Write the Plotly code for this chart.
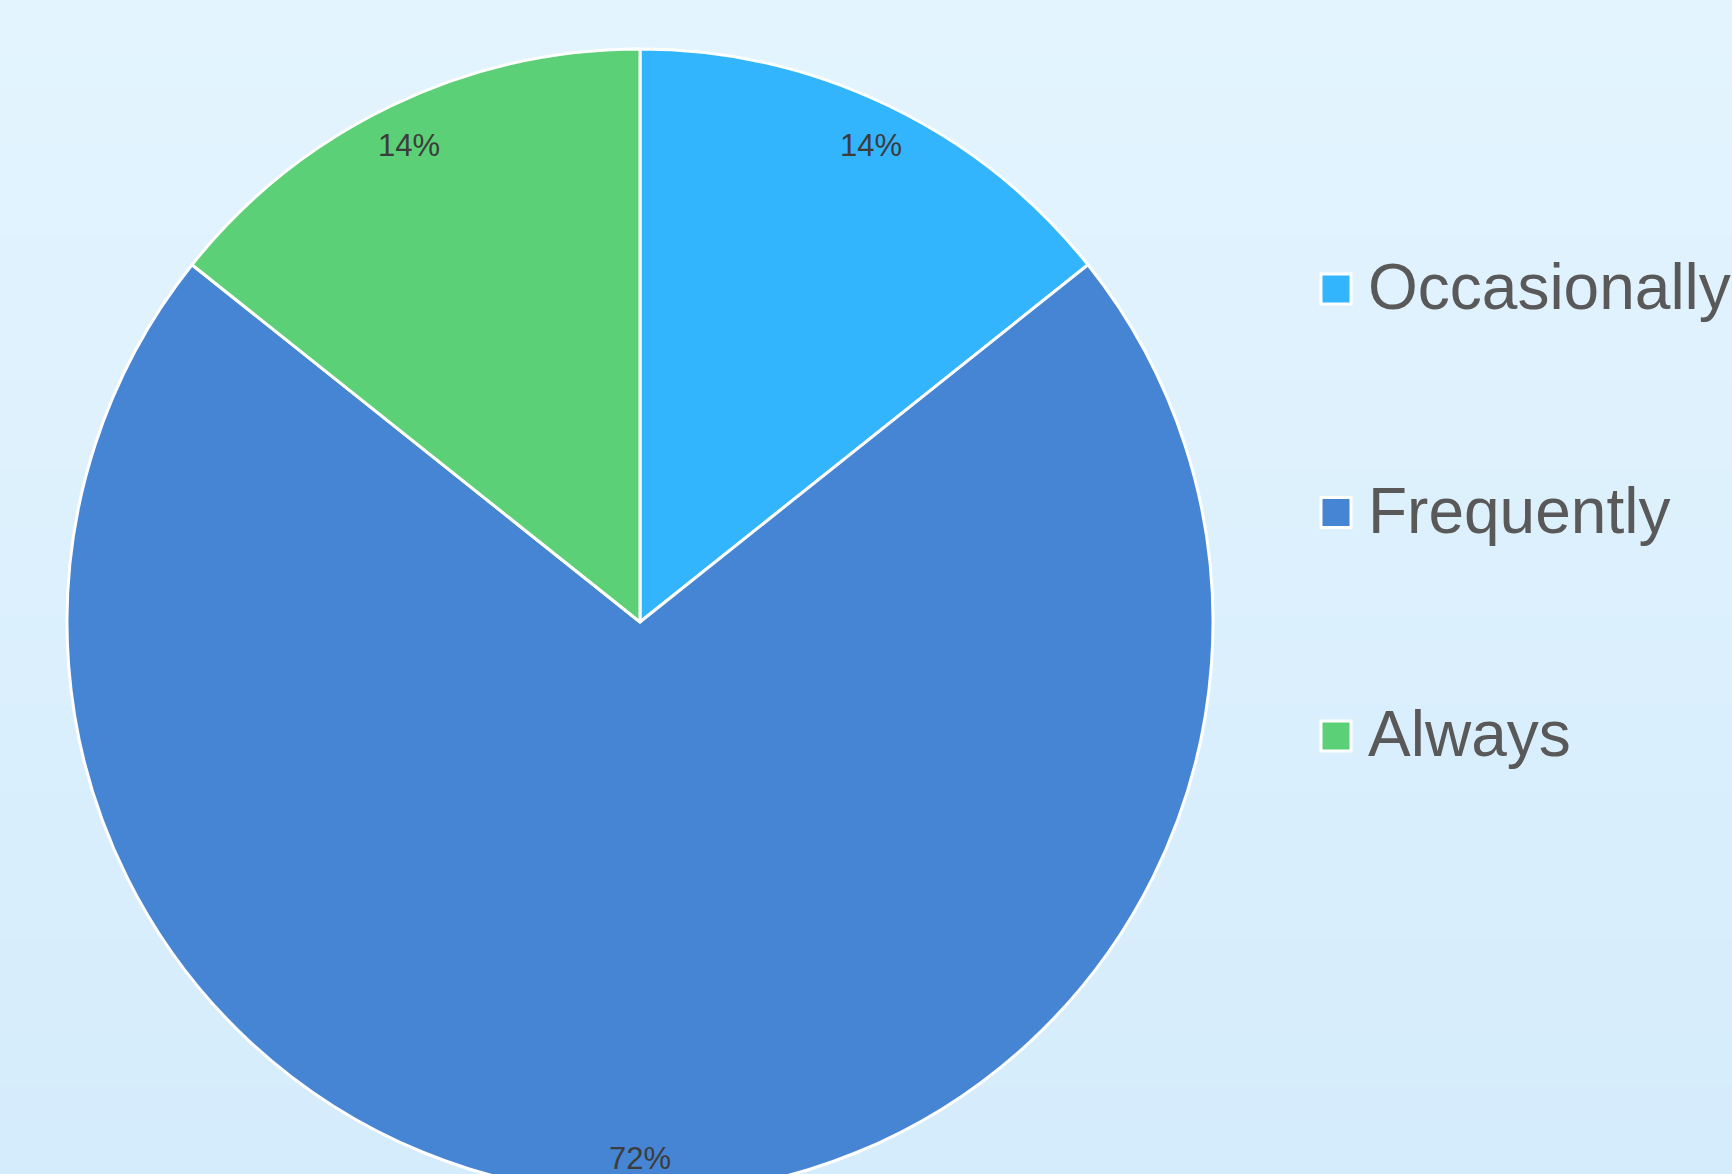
import plotly.graph_objects as go
import math

# ---- data ----
labels = ["Occasionally", "Frequently", "Always"]
values = [1, 5, 1]
colors = ["#33B5FE", "#4685D4", "#5CD077"]

# percent labels (largest remainder so they sum to 100)
total = sum(values)
raw = [v * 100.0 / total for v in values]
floors = [int(r) for r in raw]
left = 100 - sum(floors)
order = sorted(range(len(raw)), key=lambda i: raw[i] - floors[i], reverse=True)
for i in order[:left]:
    floors[i] += 1
pct_text = [f"{p}%" for p in floors]

# ---- layout geometry ----
W, H = 1732, 1244
cx, cy, R = 640, 622, 573
FONT = "Arial, 'Liberation Sans', sans-serif"

fig = go.Figure()
fig.add_trace(go.Pie(
    labels=labels, values=values, sort=False, direction="clockwise", rotation=0,
    marker=dict(colors=colors, line=dict(color="white", width=3)),
    textinfo="none", hoverinfo="label+percent", showlegend=False,
    domain=dict(x=[(cx - R) / W, (cx + R) / W], y=[0, 1]),
))

# background gradient bands
shapes = []
top = (0xE3, 0xF4, 0xFE)
bot = (0xD5, 0xEC, 0xFC)
nb = 40
visible = 1174
for k in range(nb):
    t = k / (nb - 1)
    c = tuple(round(top[j] + (bot[j] - top[j]) * t) for j in range(3))
    y0 = 1 - (k * visible / nb) / H
    y1 = 1 - ((k + 1) * visible / nb) / H if k < nb - 1 else 0
    shapes.append(dict(type="rect", xref="paper", yref="paper", x0=0, x1=1,
                       y0=y1, y1=y0, fillcolor="rgb(%d,%d,%d)" % c,
                       line=dict(width=0), layer="below"))

annotations = []
cum = 0.0
for v, txt in zip(values, pct_text):
    mid = (cum + v / 2) / total * 2 * math.pi
    cum += v
    px = cx + 0.93 * R * math.sin(mid)
    py = cy - 0.93 * R * math.cos(mid) + 4
    annotations.append(dict(x=px / W, y=1 - py / H, xref="paper", yref="paper",
                            text=txt, showarrow=False, xanchor="center", yanchor="middle",
                            font=dict(family=FONT, size=31, color="#3C3C3C")))

# custom legend
leg_x, leg_y0, leg_dy, sq = 1336, 289, 223.5, 30
for i, (lab, col) in enumerate(zip(labels, colors)):
    yc = leg_y0 + i * leg_dy
    shapes.append(dict(type="rect", xref="paper", yref="paper",
                       x0=(leg_x - sq / 2) / W, x1=(leg_x + sq / 2) / W,
                       y0=1 - (yc + sq / 2) / H, y1=1 - (yc - sq / 2) / H,
                       fillcolor=col, line=dict(color="white", width=3), layer="above"))
    annotations.append(dict(x=1366 / W, y=1 - (yc - 2) / H, xref="paper", yref="paper",
                            text=lab, showarrow=False, xanchor="left", yanchor="middle",
                            font=dict(family=FONT, size=64, color="#595959")))

fig.update_layout(
    width=W, height=H, margin=dict(l=0, r=0, t=0, b=0),
    paper_bgcolor="#DDF0FD", plot_bgcolor="rgba(0,0,0,0)",
    shapes=shapes, annotations=annotations, showlegend=False,
)

fig.write_html("out.html", config={"displayModeBar": False},
               post_script="document.body.style.margin='0';document.body.style.overflow='hidden';")
